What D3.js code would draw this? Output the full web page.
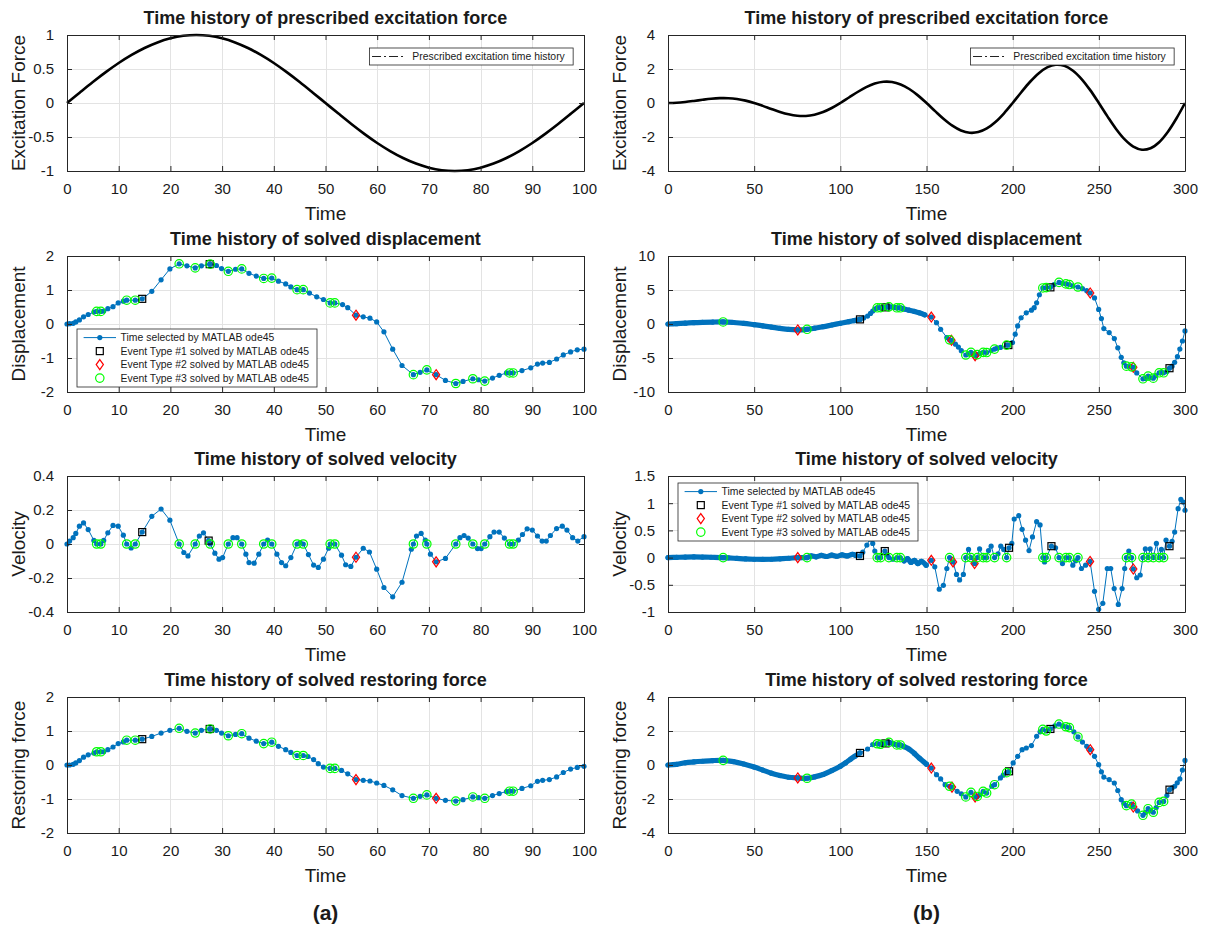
<!DOCTYPE html>
<html><head><meta charset="utf-8">
<script src="https://cdn.jsdelivr.net/npm/d3@7"></script>
<style>
body{margin:0;background:#fff}
svg{display:block}
text{font-family:"Liberation Sans",Arial,Helvetica,sans-serif;fill:#1a1a1a}
</style>
</head><body>
<svg id="chart" width="1211" height="931"></svg>
<script>
// ---------------- DATA ----------------
const titles = ["Time history of prescribed excitation force","Time history of solved displacement","Time history of solved velocity","Time history of solved restoring force"];
const yLabels = ["Excitation Force","Displacement","Velocity","Restoring force"];
const xLabel = "Time";
const panelTags = ["(a)","(b)"];
const legendExc = ["Prescribed excitation time history"];
const legendSeries = ["Time selected by MATLAB ode45","Event Type #1 solved by MATLAB ode45","Event Type #2 solved by MATLAB ode45","Event Type #3 solved by MATLAB ode45"];

const xTicksL = [0,10,20,30,40,50,60,70,80,90,100];
const xTicksR = [0,50,100,150,200,250,300];
const yTicksExcL = [-1,-0.5,0,0.5,1];
const yTicksDispL = [-2,-1,0,1,2];
const yTicksVelL = [-0.4,-0.2,0,0.2,0.4];
const yTicksRestL = [-2,-1,0,1,2];
const yTicksExcR = [-4,-2,0,2,4];
const yTicksDispR = [-10,-5,0,5,10];
const yTicksVelR = [-1,-0.5,0,0.5,1,1.5];
const yTicksRestR = [-4,-2,0,2,4];

// (a) excitation force
const excL = [[0,0],[2.5,.156],[5,.309],[7.5,.454],[10,.588],[12.5,.707],[15,.809],[17.5,.891],[20,.951],[22.5,.988],[25,1],[27.5,.988],[30,.951],[32.5,.891],[35,.809],[37.5,.707],[40,.588],[42.5,.454],[45,.309],[47.5,.156],[50,0],[52.5,-.156],[55,-.309],[57.5,-.454],[60,-.588],[62.5,-.707],[65,-.809],[67.5,-.891],[70,-.951],[72.5,-.988],[75,-1],[77.5,-.988],[80,-.951],[82.5,-.891],[85,-.809],[87.5,-.707],[90,-.588],[92.5,-.454],[95,-.309],[97.5,-.156],[100,0]];
// (a) displacement
const dispL = [[0,0],[0.5,0.01],[1.2,0.02],[1.7,0.06],[2.4,0.12],[3.2,0.21],[4.1,0.28],[5.2,0.35],[7.1,0.38],[7.9,0.45],[8.9,0.51],[9.9,0.62],[10.9,0.67],[16.4,0.96],[18.2,1.30],[19.9,1.62],[23.2,1.71],[26.0,1.71],[28.9,1.72],[29.9,1.63],[32.6,1.61],[35.2,1.49],[36.6,1.41],[40.9,1.26],[42.3,1.18],[43.3,1.09],[46.9,0.91],[48.3,0.80],[49.6,0.72],[53.3,0.57],[54.3,0.48],[57.3,0.21],[58.6,0.17],[59.9,0.06],[61.3,-0.23],[63.0,-0.74],[64.8,-1.22],[68.3,-1.42],[73.2,-1.66],[76.6,-1.69],[79.6,-1.64],[82.3,-1.59],[83.6,-1.51],[85.0,-1.44],[88.0,-1.37],[89.7,-1.29],[91.0,-1.18],[92.0,-1.15],[93.3,-1.13],[94.7,-1.03],[96.0,-0.91],[97.4,-0.82],[98.7,-0.76],[100,-0.74]];
const dispL_ev1 = [[14.55,0.74],[27.6,1.76]];
const dispL_ev2 = [[55.9,0.26],[71.4,-1.49]];
const dispL_ev3 = [[5.74,.37],[6.54,.37],[11.55,.70],[13.2,.70],[21.7,1.77],[24.8,1.65],[27.7,1.76],[31.2,1.55],[33.8,1.62],[38.05,1.34],[39.6,1.35],[44.5,1.01],[45.7,1.01],[50.9,.62],[51.8,.62],[67.0,-1.49],[69.6,-1.35],[75.2,-1.75],[78.5,-1.61],[80.8,-1.68],[85.6,-1.44],[86.3,-1.44]];
// (a) velocity
const velL = [[0,0],[0.5,0.017],[1.2,0.037],[1.7,0.062],[2.4,0.105],[3.2,0.124],[4.1,0.085],[5.2,0.021],[7.1,0.021],[7.9,0.066],[8.9,0.109],[9.9,0.105],[10.9,0.052],[12.4,-0.023],[16.4,0.163],[18.2,0.206],[19.9,0.140],[22.6,-0.05],[23.4,-0.07],[25.6,0.047],[26.4,0.066],[28.6,-0.054],[29.4,-0.089],[30.1,-0.08],[32.1,0.037],[32.9,0.037],[34.6,-0.06],[35.2,-0.109],[36.2,-0.113],[37.1,-0.06],[38.8,0.023],[40.6,-0.06],[41.5,-0.109],[42.3,-0.128],[43.3,-0.08],[45.1,0.008],[46.7,-0.062],[47.7,-0.124],[48.6,-0.138],[49.6,-0.089],[50.6,-0.025],[53.1,-0.066],[53.9,-0.122],[54.9,-0.132],[57.3,-0.025],[58.5,-0.047],[59.9,-0.148],[61.3,-0.256],[63.0,-0.311],[64.8,-0.225],[66.6,-0.031],[67.6,0.047],[68.5,0.062],[69.3,0.023],[70.3,-0.06],[73.2,-0.085],[76.0,0.037],[76.8,0.05],[77.6,0.035],[79.4,-0.027],[80.1,-0.027],[81.8,0.043],[82.6,0.07],[83.6,0.07],[84.6,0.035],[87.3,0.023],[88.1,0.056],[89.0,0.089],[90.0,0.082],[91.0,0.047],[91.9,0.017],[92.7,0.017],[93.5,0.05],[94.7,0.091],[95.8,0.105],[96.7,0.082],[97.8,0.037],[98.8,0.017],[100,0.043]];
const velL_ev1 = [[14.55,0.07],[27.4,0.02]];
const velL_ev2 = [[55.9,-0.078],[71.4,-0.105]];
const velL_ev3 = [[5.74,0],[6.54,0],[11.55,0],[13.2,0],[21.7,0],[24.8,0],[27.7,0],[31.2,0],[33.8,0],[38.05,0],[39.6,0],[44.5,0],[45.7,0],[50.9,0],[51.8,0],[67.0,0],[69.6,0],[75.2,0],[78.5,0],[80.8,0],[85.6,0],[86.3,0]];
// (a) restoring force
const restL = [[0,0],[0.5,0.0],[1.2,0.02],[1.7,0.06],[2.4,0.13],[3.2,0.23],[4.1,0.30],[5.2,0.35],[7.1,0.39],[7.9,0.45],[8.9,0.53],[9.9,0.63],[10.9,0.68],[16.4,0.84],[18.2,0.94],[19.9,1.02],[23.2,0.99],[26.0,1.02],[28.9,1.02],[29.9,0.94],[32.6,0.90],[35.2,0.79],[36.6,0.70],[40.9,0.55],[42.3,0.45],[43.3,0.37],[46.6,0.25],[47.7,0.16],[48.6,0.04],[49.6,-0.06],[53.1,-0.16],[54.3,-0.26],[57.3,-0.45],[58.6,-0.47],[59.9,-0.53],[61.3,-0.60],[63.0,-0.73],[64.8,-0.90],[68.3,-0.92],[73.2,-1.04],[76.6,-1.02],[79.6,-0.96],[82.3,-0.90],[83.6,-0.84],[85.0,-0.78],[88.0,-0.69],[89.7,-0.61],[91.0,-0.48],[92.0,-0.45],[93.3,-0.43],[94.7,-0.35],[96.0,-0.22],[97.4,-0.12],[98.7,-0.07],[100,-0.04]];
const restL_ev1 = [[14.55,0.76],[27.6,1.06]];
const restL_ev2 = [[55.9,-0.43],[71.4,-0.98]];
const restL_ev3 = [[5.74,.39],[6.54,.39],[11.55,.73],[13.2,.73],[21.7,1.08],[24.8,.94],[27.7,1.06],[31.2,.86],[33.8,.92],[38.05,.63],[39.6,.67],[44.5,.28],[45.7,.28],[50.9,-.10],[51.8,-.10],[67.0,-.98],[69.6,-.88],[75.2,-1.06],[78.5,-.94],[80.8,-.98],[85.6,-.77],[86.3,-.77]];

// (b) excitation force
const excR = [[0,0],[5,.015],[10,.059],[15,.121],[20,.190],[25,.25],[30,.285],[35,.283],[40,.235],[45,.139],[50,0],[55,-.170],[60,-.353],[65,-.526],[70,-.666],[75,-.75],[80,-.761],[85,-.688],[90,-.529],[95,-.294],[100,0],[105,.324],[110,.647],[115,.930],[120,1.141],[125,1.25],[130,1.236],[135,1.092],[140,.823],[145,.448],[150,0],[155,-.479],[160,-.941],[165,-1.335],[170,-1.617],[175,-1.75],[180,-1.712],[185,-1.497],[190,-1.117],[195,-.603],[200,0],[205,.633],[210,1.235],[215,1.739],[220,2.092],[225,2.25],[230,2.187],[235,1.901],[240,1.411],[245,.757],[250,0],[255,-.788],[260,-1.529],[265,-2.144],[270,-2.568],[275,-2.75],[280,-2.663],[285,-2.306],[290,-1.705],[295,-.912],[300,0]];
// (b) displacement
const dispR = [[0,0],[5,0.05],[10,0.12],[15,0.2],[20,0.25],[26,0.29],[38,0.22],[44,0.1],[50,-0.1],[55,-0.27],[60,-0.45],[65,-0.64],[70,-0.8],[85,-0.62],[90,-0.4],[95,-0.15],[100,0.1],[105,0.35],[108,0.5],[113.5,0.9],[115.8,1.17],[117.5,1.55],[118.8,1.9],[120,2.2],[125,2.42],[130,2.5],[137,2.2],[139.8,2.04],[143,1.85],[145.8,1.65],[149,1.35],[155.8,0.19],[158.2,-0.78],[161.8,-1.99],[166.8,-2.96],[168.5,-3.4],[170.2,-3.93],[174.3,-4.4],[177,-4.4],[181,-4.3],[187.5,-3.9],[191,-3.55],[192.9,-3.45],[199.9,-2.72],[201.5,-1.5],[202.9,-0.29],[204.9,0.92],[207.9,1.65],[210.9,2.04],[212.5,2.4],[213.9,3.11],[215.5,4.3],[224,5.8],[228.9,6.0],[235,5.6],[240.5,5.2],[243,4.9],[247.5,3.83],[249.9,2.14],[251.5,0.8],[252.9,-0.68],[256,-1.26],[259,-2.14],[261,-3.5],[263,-4.9],[264.5,-5.7],[268,-6.25],[272,-7.2],[277,-8.0],[279.8,-7.9],[283,-7.6],[286.3,-7.1],[289.5,-7.0],[292.5,-6.2],[294,-5.63],[295.6,-4.8],[297,-3.69],[298.5,-2.5],[300,-1.02]];
const dispR_ev1 = [[111.4,0.68],[126.2,2.45],[197.5,-3.1],[221.9,5.39],[291,-6.5]];
const dispR_ev2 = [[75.3,-0.87],[152.8,1.02],[164.5,-2.4],[178.2,-4.66],[245,4.56],[270,-6.36]];
const dispR_ev3 = [[32,0.3],[80.7,-0.78],[121.4,2.38],[123.4,2.4],[128.2,2.52],[132.8,2.38],[134.8,2.38],[163.4,-2.33],[172.8,-4.56],[175.8,-4.17],[179.5,-4.5],[182.9,-4.17],[184.9,-4.2],[189.5,-3.69],[196.5,-3.1],[217.5,5.3],[219.5,5.35],[226.9,6.12],[230.9,5.9],[232.9,5.8],[237.9,5.44],[266,-6.2],[269,-6.3],[275.6,-8.06],[278.6,-7.67],[281.6,-7.96],[285,-7.18],[287.6,-7.18]];
// (b) velocity
const velR = [[0,0],[5,0.005],[10,0.01],[15,0.012],[20,0.01],[25,0.006],[35,-0.005],[40,-0.015],[45,-0.025],[50,-0.03],[55,-0.032],[60,-0.03],[65,-0.022],[70,-0.012],[77,0.0],[83,0.03],[86,0.015],[89,0.04],[92,0.02],[95,0.045],[98,0.025],[101,0.05],[104,0.03],[107,0.06],[109,0.04],[113,0.1],[115.4,0.23],[117.2,0.34],[118.8,0.26],[120,0.12],[127.2,0.05],[130.5,-0.03],[137,-0.06],[139,-0.02],[141,-0.09],[143,-0.05],[145,-0.11],[147,-0.07],[149.8,-0.14],[154.8,-0.17],[157.4,-0.58],[159.8,-0.51],[161.8,-0.2],[167.4,-0.31],[169.2,-0.41],[171.4,-0.31],[174.4,0.15],[180.8,0.16],[186,0.13],[187.5,0.21],[191.5,0.07],[193.1,0.21],[194.8,0.15],[199.5,0.26],[200.9,0.71],[203.5,0.77],[205.5,0.52],[207.5,0.32],[209.5,0.13],[211.5,0.38],[213.9,0.66],[215.9,0.6],[218.5,-0.08],[224.9,0.18],[228.9,-0.11],[234.9,-0.14],[236.5,-0.06],[239.9,-0.2],[242.3,-0.14],[247.5,-0.62],[249.9,-0.95],[252.3,-0.84],[254.9,-0.2],[256.9,-0.2],[258.9,-0.57],[261.3,-0.86],[263.5,-0.57],[265,-0.2],[267.4,0.12],[272,-0.37],[274,-0.32],[277,0.16],[279.8,0.16],[283.4,0.26],[286.3,0.15],[289,0.32],[292.5,0.3],[294,0.47],[296,0.9],[297.6,1.07],[299,1.02],[300,0.87]];
const velR_ev1 = [[111.4,0.03],[125.8,0.12],[197.9,0.18],[222.5,0.21],[291,0.21]];
const velR_ev2 = [[75.3,0],[152.8,-0.05],[165.4,-0.08],[177.9,-0.11],[244.9,-0.07],[270,-0.21]];
const velR_ev3 = [[32,0],[80.7,0],[121.4,0],[123.4,0],[128.2,0],[132.8,0],[134.8,0],[163.4,0],[172.8,0],[175.8,0],[179.5,0],[182.9,0],[184.9,0],[189.5,0],[196.5,0],[217.5,0],[219.5,0],[226.9,0],[230.9,0],[232.9,0],[237.9,0],[266,0],[269,0],[275.6,0],[278.6,0],[281.6,0],[285,0],[287.6,0]];
// (b) restoring force
const restR = [[0,0],[5,0.04],[10,0.13],[15,0.18],[20,0.22],[26,0.26],[38,0.2],[44,0.06],[50,-0.12],[55,-0.3],[60,-0.48],[65,-0.62],[70,-0.72],[85,-0.7],[90,-0.56],[95,-0.33],[100,-0.07],[103,0.12],[106,0.35],[108.5,0.52],[115.8,0.94],[118.8,1.2],[124,1.22],[130.5,1.25],[137,1.08],[139.8,0.94],[143,0.68],[145.8,0.41],[150,0.05],[155.8,-0.57],[158.2,-0.82],[160.8,-1.16],[167.8,-1.55],[170.2,-1.69],[180.9,-1.75],[187.9,-1.25],[192.9,-0.76],[194.5,-0.6],[200.3,0.12],[202.9,0.51],[205.5,0.9],[207.9,1.0],[210.9,1.14],[213.9,1.69],[215.9,1.95],[224.5,2.3],[229,2.3],[235.5,1.95],[240.5,1.35],[243,1.1],[247.5,0.51],[249.9,0.02],[251.5,-0.4],[252.9,-0.71],[256,-0.86],[259,-1.06],[261,-1.5],[263,-2.04],[264.5,-2.25],[272.5,-2.7],[277,-2.8],[280,-2.7],[283.3,-2.5],[289.5,-1.8],[292.5,-1.35],[294,-1.25],[295.5,-1.05],[297,-0.82],[298.5,-0.3],[300,0.27]];
const restR_ev1 = [[111.4,0.71],[126.2,1.27],[197.9,-0.37],[221.9,2.12],[291,-1.45]];
const restR_ev2 = [[75.3,-0.76],[152.8,-0.18],[164.8,-1.3],[178.2,-1.88],[245,0.9],[270,-2.47]];
const restR_ev3 = [[32,0.27],[80.7,-0.78],[121.4,1.25],[123.4,1.22],[128.2,1.33],[132.8,1.18],[134.8,1.18],[163.4,-1.25],[172.8,-1.88],[175.8,-1.61],[179.5,-1.85],[182.9,-1.55],[184.9,-1.65],[189.5,-1.16],[196.5,-0.45],[217.5,2.1],[219.5,2.0],[226.9,2.41],[230.9,2.25],[232.9,2.2],[237.9,1.65],[266,-2.39],[269,-2.3],[275.6,-2.96],[278.6,-2.57],[281.6,-2.78],[285,-2.2],[287.6,-2.14]];

// time spans where ode45 output is so dense that the dots merge into a band
const denseDispR = [[0,112],[121,152]];
const denseVelR = [[0,111],[135,150]];
const denseRestR = [[0,112],[121,152]];

// ---------------- LAYOUT / STYLE ----------------
const svg = d3.select("#chart");
const cols = [{x0:67,x1:584},{x0:668,x1:1185}];
const rowTop = [35,256,476,697], rowH = 136;
const BLUE = "#0072BD", AXIS = "#262626", GRID = "#e3e3e3";
const FONT = '"Liberation Sans",Arial,Helvetica,sans-serif';

function makePanel(col, row, xDomain, xTicks, yDomain, yTicks){
  const {x0,x1} = cols[col];
  const top = rowTop[row], bot = top + rowH;
  const x = d3.scaleLinear().domain(xDomain).range([x0,x1]);
  const y = d3.scaleLinear().domain(yDomain).range([bot,top]);
  const g = svg.append("g");
  g.append("rect").attr("x",x0).attr("y",top).attr("width",x1-x0).attr("height",rowH).attr("fill","#fff");
  const grid = g.append("g").attr("stroke",GRID).attr("stroke-width",1);
  grid.selectAll(".vx").data(xTicks.slice(1,-1)).join("line")
    .attr("x1",d=>Math.round(x(d))+0.5).attr("x2",d=>Math.round(x(d))+0.5).attr("y1",top).attr("y2",bot);
  grid.selectAll(".hy").data(yTicks.filter(t=>t>yDomain[0]&&t<yDomain[1])).join("line")
    .attr("y1",d=>Math.round(y(d))+0.5).attr("y2",d=>Math.round(y(d))+0.5).attr("x1",x0).attr("x2",x1);
  const content = g.append("g");
  const axes = g.append("g");
  return {x,y,g,content,axes,top,bot,x0,x1,xTicks,yTicks,col,row};
}

function finishAxes(p, title, ylab){
  const {x,y,axes,top,bot,x0,x1} = p;
  const fmt = d => String(d);
  const styleAxis = sel => {
    sel.select(".domain").attr("stroke",AXIS);
    sel.selectAll(".tick line").attr("stroke",AXIS);
    sel.selectAll("text").attr("font-size",15).attr("font-family",FONT).attr("fill","#1a1a1a");
  };
  axes.append("g").attr("transform",`translate(0,${bot})`)
    .call(d3.axisBottom(x).tickValues(p.xTicks).tickSize(-5).tickSizeOuter(0).tickPadding(12).tickFormat(fmt)).call(styleAxis);
  axes.append("g").attr("transform",`translate(0,${top})`)
    .call(d3.axisTop(x).tickValues(p.xTicks).tickSize(-5).tickSizeOuter(0).tickFormat(()=>"")).call(styleAxis);
  axes.append("g").attr("transform",`translate(${x0},0)`)
    .call(d3.axisLeft(y).tickValues(p.yTicks).tickSize(-5).tickSizeOuter(0).tickPadding(13).tickFormat(fmt)).call(styleAxis);
  axes.append("g").attr("transform",`translate(${x1},0)`)
    .call(d3.axisRight(y).tickValues(p.yTicks).tickSize(-5).tickSizeOuter(0).tickFormat(()=>"")).call(styleAxis);
  const cx = (x0+x1)/2;
  svg.append("text").attr("x",cx).attr("y",top-11).attr("text-anchor","middle")
    .attr("font-size",18).attr("font-weight","bold").attr("fill","#000").text(title);
  svg.append("text").attr("x",cx).attr("y",bot+49).attr("text-anchor","middle")
    .attr("font-size",19).text(xLabel);
  svg.append("text").attr("transform",`translate(${x0-42},${(top+bot)/2}) rotate(-90)`)
    .attr("text-anchor","middle").attr("font-size",19).text(ylab);
}

function drawExc(p, data){
  const line = d3.line().x(d=>p.x(d[0])).y(d=>p.y(d[1])).curve(d3.curveCatmullRom);
  p.content.append("path").datum(data).attr("d",line).attr("fill","none")
    .attr("stroke","#000").attr("stroke-width",2.6);
  const w = p.x1-p.x0;
  const bx0 = p.x0 + 0.585*w, bx1 = p.x0 + 0.979*w, by0 = p.top+13, by1 = p.top+30;
  const lg = p.content.append("g");
  lg.append("rect").attr("x",bx0).attr("y",by0).attr("width",bx1-bx0).attr("height",by1-by0)
    .attr("fill","#fff").attr("stroke",AXIS).attr("stroke-width",0.8);
  const my = (by0+by1)/2;
  lg.append("line").attr("x1",p.x0+0.59*w).attr("x2",p.x0+0.65*w).attr("y1",my).attr("y2",my)
    .attr("stroke","#222").attr("stroke-width",1).attr("stroke-dasharray","9,3,2,3");
  lg.append("text").attr("x",p.x0+0.668*w).attr("y",my+3.6).attr("font-size",10.4).text(legendExc[0]);
}

function drawSeries(p, series, ev1, ev2, ev3, dense){
  const all = series.concat(ev1, ev2, ev3).sort((a,b)=>a[0]-b[0]);
  const line = d3.line().x(d=>p.x(d[0])).y(d=>p.y(d[1]));
  (dense||[]).forEach(([a,b])=>{
    const band = all.filter(d=>d[0]>=a && d[0]<=b);
    p.content.append("path").datum(band)
      .attr("d", d3.line().x(d=>p.x(d[0])).y(d=>p.y(d[1])).curve(d3.curveCatmullRom))
      .attr("fill","none").attr("stroke",BLUE).attr("stroke-width",5.2)
      .attr("stroke-linecap","round").attr("stroke-linejoin","round");
  });
  p.content.append("path").datum(all).attr("d",line).attr("fill","none").attr("stroke",BLUE).attr("stroke-width",1);
  p.content.append("g").selectAll("circle").data(all).join("circle")
    .attr("cx",d=>p.x(d[0])).attr("cy",d=>p.y(d[1])).attr("r",2.6).attr("fill",BLUE);
  drawEvents(p.content, p, ev1, ev2, ev3);
}

function sq(g,cx,cy){ g.append("rect").attr("x",cx-3.5).attr("y",cy-3.5).attr("width",7).attr("height",7).attr("fill","none").attr("stroke","#000").attr("stroke-width",1.2); }
function dia(g,cx,cy){ g.append("path").attr("d",`M${cx},${cy-5}L${cx+3.6},${cy}L${cx},${cy+5}L${cx-3.6},${cy}Z`).attr("fill","none").attr("stroke","#ff0000").attr("stroke-width",1.2); }
function circ(g,cx,cy){ g.append("circle").attr("cx",cx).attr("cy",cy).attr("r",4.2).attr("fill","none").attr("stroke","#00ff00").attr("stroke-width",1.2); }

function drawEvents(g,p,ev1,ev2,ev3){
  ev1.forEach(d=>sq(g,p.x(d[0]),p.y(d[1])));
  ev2.forEach(d=>dia(g,p.x(d[0]),p.y(d[1])));
  ev3.forEach(d=>circ(g,p.x(d[0]),p.y(d[1])));
}

function drawLegend(p, bx0, by0){
  const W = 240, Hh = 58;
  const lg = p.content.append("g");
  lg.append("rect").attr("x",bx0).attr("y",by0).attr("width",W).attr("height",Hh)
    .attr("fill","#fff").attr("stroke",AXIS).attr("stroke-width",0.8);
  legendSeries.forEach((s,i)=>{
    const cy = by0 + 8.6 + i*13.5;
    const mx = bx0 + 22.8;
    if (i===0){
      lg.append("line").attr("x1",bx0+6.6).attr("x2",bx0+39).attr("y1",cy).attr("y2",cy).attr("stroke",BLUE).attr("stroke-width",1);
      lg.append("circle").attr("cx",mx).attr("cy",cy).attr("r",2.6).attr("fill",BLUE);
    } else if (i===1) sq(lg,mx,cy);
    else if (i===2) dia(lg,mx,cy);
    else circ(lg,mx,cy);
    lg.append("text").attr("x",bx0+43.6).attr("y",cy+3.6).attr("font-size",10.4).text(s);
  });
}

// ---------------- BUILD ----------------
const pL = [
  makePanel(0,0,[0,100],xTicksL,[-1,1],yTicksExcL),
  makePanel(0,1,[0,100],xTicksL,[-2,2],yTicksDispL),
  makePanel(0,2,[0,100],xTicksL,[-0.4,0.4],yTicksVelL),
  makePanel(0,3,[0,100],xTicksL,[-2,2],yTicksRestL)
];
const pR = [
  makePanel(1,0,[0,300],xTicksR,[-4,4],yTicksExcR),
  makePanel(1,1,[0,300],xTicksR,[-10,10],yTicksDispR),
  makePanel(1,2,[0,300],xTicksR,[-1,1.5],yTicksVelR),
  makePanel(1,3,[0,300],xTicksR,[-4,4],yTicksRestR)
];

drawExc(pL[0], excL);
drawSeries(pL[1], dispL, dispL_ev1, dispL_ev2, dispL_ev3, null);
drawSeries(pL[2], velL, velL_ev1, velL_ev2, velL_ev3, null);
drawSeries(pL[3], restL, restL_ev1, restL_ev2, restL_ev3, null);
drawExc(pR[0], excR);
drawSeries(pR[1], dispR, dispR_ev1, dispR_ev2, dispR_ev3, denseDispR);
drawSeries(pR[2], velR, velR_ev1, velR_ev2, velR_ev3, denseVelR);
drawSeries(pR[3], restR, restR_ev1, restR_ev2, restR_ev3, denseRestR);

drawLegend(pL[1], pL[1].x0+10, pL[1].bot-63);
drawLegend(pR[2], pR[2].x0+10, pR[2].top+7);

pL.forEach((p,i)=>finishAxes(p,titles[i],yLabels[i]));
pR.forEach((p,i)=>finishAxes(p,titles[i],yLabels[i]));

panelTags.forEach((t,i)=>{
  svg.append("text").attr("x",(cols[i].x0+cols[i].x1)/2).attr("y",920).attr("text-anchor","middle")
    .attr("font-size",21).attr("font-weight","bold").attr("fill","#000").text(t);
});
</script>
</body></html>
